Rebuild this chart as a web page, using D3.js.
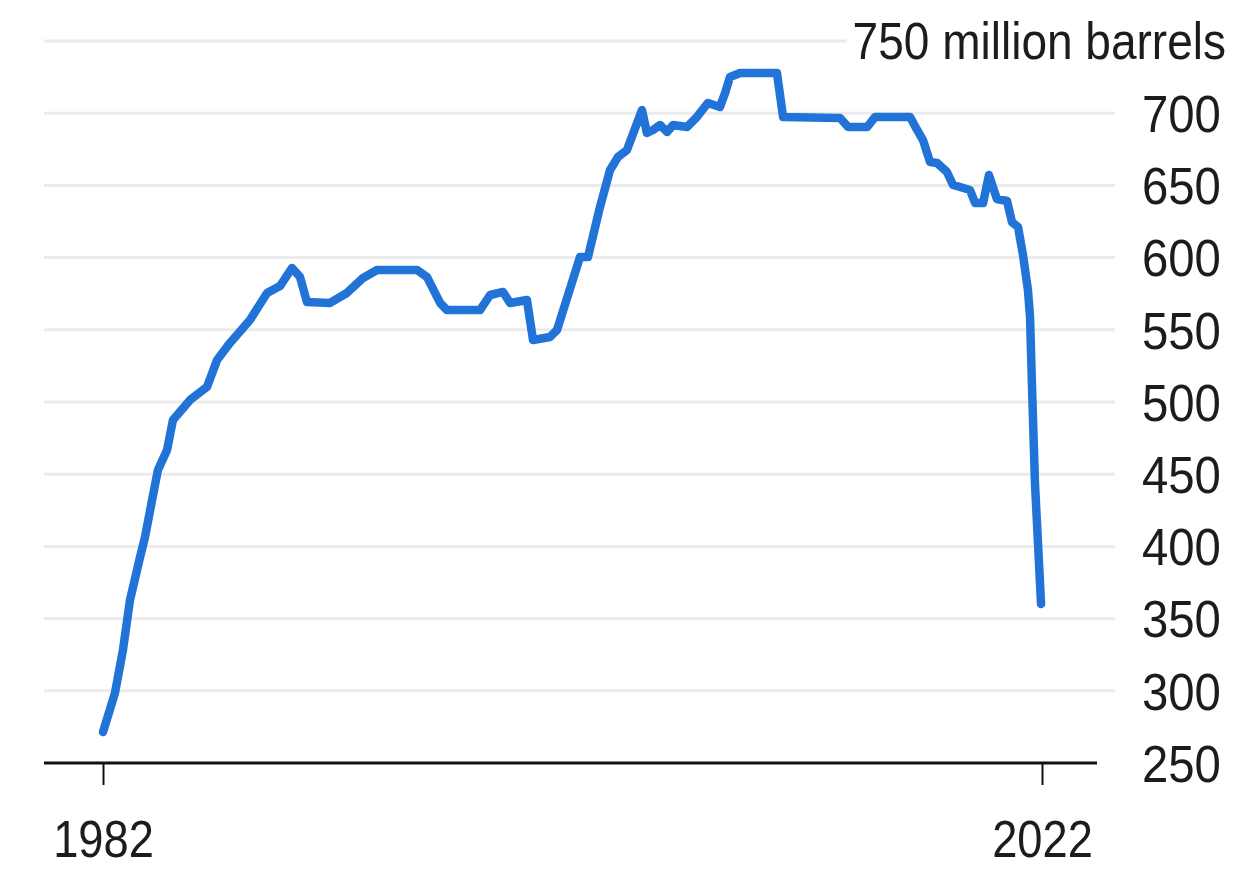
<!DOCTYPE html>
<html>
<head>
<meta charset="utf-8">
<script src="https://cdn.jsdelivr.net/npm/d3@7"></script>
<style>
  html, body { margin: 0; padding: 0; background: #fff; }
  svg { display: block; }
  text { font-family: "Liberation Sans", Arial, Helvetica, sans-serif; fill: #1c1c1c; }
</style>
</head>
<body>
<svg id="chart" width="1255" height="879"></svg>
<script>
// Strategic reserve level, million barrels (decimal years)
const years = [
  1982.00, 1982.51, 1982.85, 1983.15, 1983.58, 1983.79, 1984.09, 1984.34, 1984.73, 1984.98,
  1985.71, 1986.43, 1986.86, 1987.41, 1988.26, 1988.99, 1989.54, 1990.05, 1990.39, 1990.69,
  1991.67, 1992.39, 1993.08, 1993.67, 1995.38, 1995.80, 1996.36, 1996.65, 1998.06, 1998.49,
  1999.04, 1999.34, 2000.06, 2000.32, 2001.04, 2001.34, 2002.32, 2002.66, 2003.17, 2003.60,
  2003.94, 2004.32, 2004.96, 2005.17, 2005.43, 2005.73, 2006.03, 2006.28, 2006.88, 2007.30,
  2007.77, 2008.28, 2008.50, 2008.71, 2009.14, 2010.71, 2010.97, 2013.40, 2013.74, 2014.55,
  2014.89, 2016.38, 2016.68, 2016.93, 2017.23, 2017.53, 2017.95, 2018.21, 2018.51, 2018.93,
  2019.15, 2019.49, 2019.74, 2020.08, 2020.51, 2020.72, 2020.98, 2021.19, 2021.40, 2021.49,
  2021.57, 2021.70, 2021.96
];
const barrels = [
  271.5, 298.5, 328.3, 362.9, 392.7, 406.5, 432.1, 452.9, 466.8, 487.5,
  501.4, 510.4, 529.1, 540.9, 556.8, 575.5, 580.3, 592.8, 586.6, 569.2,
  568.6, 575.5, 585.9, 591.4, 591.4, 586.6, 568.6, 563.7, 563.7, 574.1,
  576.2, 568.6, 570.6, 542.9, 545.0, 549.9, 600.4, 600.4, 635.0, 660.7,
  669.7, 674.5, 702.2, 686.3, 688.4, 691.8, 687.0, 691.8, 690.4, 697.4,
  707.1, 704.3, 714.0, 725.1, 727.8, 727.8, 697.4, 696.7, 690.4, 690.4,
  697.4, 697.4, 688.4, 681.4, 666.2, 665.5, 659.3, 650.3, 648.9, 646.8,
  637.8, 637.8, 657.2, 640.6, 639.2, 624.6, 621.2, 601.8, 577.6, 558.9,
  513.2, 443.9, 360.1
];
const yTicks = [250, 300, 350, 400, 450, 500, 550, 600, 650, 700];
const gridTicks = [300, 350, 400, 450, 500, 550, 600, 650, 700, 750];
const xTicks = [1982, 2022];
const unitLabel = "750 million barrels";

const FONT_SIZE = "52px";

const svg = d3.select("#chart");

const x = d3.scaleLinear().domain([1982, 2022]).range([103, 1042]);
const y = d3.scaleLinear().domain([250, 750]).range([763, 41]);

const plotLeft = 44, gridRight = 1115, axisRight = 1097;

// horizontal gridlines
svg.append("g")
  .selectAll("line")
  .data(gridTicks)
  .join("line")
  .attr("x1", plotLeft)
  .attr("x2", gridRight)
  .attr("y1", d => y(d))
  .attr("y2", d => y(d))
  .attr("stroke", "#ebebeb")
  .attr("stroke-width", 3);

// unit label sitting on the top gridline
const unitScale = 0.885;
const unit = svg.append("g").attr("transform", `translate(1226,${y(750)})`);
const unitText = unit.append("text")
  .attr("dy", "0.35em")
  .attr("text-anchor", "end")
  .attr("transform", `scale(${unitScale},1)`)
  .style("font-size", FONT_SIZE)
  .text(unitLabel);
const bb = unitText.node().getBBox();
unit.insert("rect", "text")
  .attr("x", bb.x * unitScale - 6)
  .attr("y", bb.y)
  .attr("width", bb.width * unitScale + 12)
  .attr("height", bb.height)
  .attr("fill", "#fff");

// right-hand value axis
const yAxis = svg.append("g")
  .attr("transform", "translate(1142,0)")
  .call(d3.axisRight(y).tickValues(yTicks).tickSize(0).tickPadding(0));
yAxis.select(".domain").remove();
yAxis.selectAll("text")
  .attr("x", 0)
  .attr("dy", "0.35em")
  .attr("text-anchor", "start")
  .attr("transform", "scale(0.91,1)")
  .style("font-size", FONT_SIZE)
  .attr("fill", "#1c1c1c");

// baseline with year ticks
const xAxis = svg.append("g")
  .attr("transform", `translate(0,${y(250)})`)
  .call(d3.axisBottom(x).tickValues(xTicks).tickFormat(d3.format("d")).tickSize(22).tickSizeOuter(0));
xAxis.select(".domain").remove();
xAxis.insert("line", ":first-child")
  .attr("x1", plotLeft)
  .attr("x2", axisRight)
  .attr("stroke", "#111")
  .attr("stroke-width", 3);
xAxis.selectAll(".tick line").attr("stroke", "#111").attr("stroke-width", 2);
xAxis.selectAll("text")
  .attr("y", 94)
  .attr("dy", 0)
  .attr("transform", "scale(0.87,1)")
  .style("font-size", FONT_SIZE)
  .attr("fill", "#1c1c1c");

// reserve line
const series = years.map((t, i) => ({ t, v: barrels[i] }));
svg.append("path")
  .datum(series)
  .attr("fill", "none")
  .attr("stroke", "#2273d8")
  .attr("stroke-width", 8.5)
  .attr("stroke-linejoin", "round")
  .attr("stroke-linecap", "round")
  .attr("d", d3.line().x(d => x(d.t)).y(d => y(d.v)));
</script>
</body>
</html>
